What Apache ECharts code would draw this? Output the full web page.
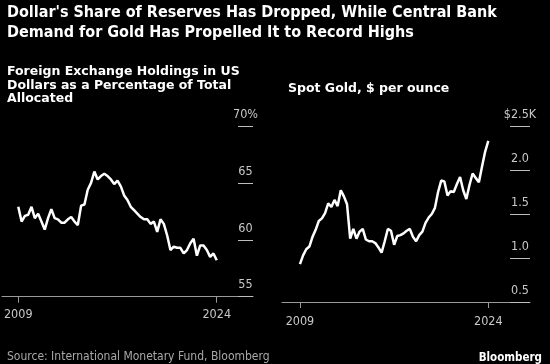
<!DOCTYPE html>
<html>
<head>
<meta charset="utf-8">
<script src="https://cdn.jsdelivr.net/npm/echarts@6/dist/echarts.min.js"></script>
<style>
html,body{margin:0;padding:0;background:#000;}
#c{width:550px;height:364px;}
</style>
</head>
<body>
<div id="c"></div>
<script>
// Left panel: USD share of allocated FX reserves (%), quarterly from 2009 Q1
const usdStartYear = 2009;
const usdShare = [62.9,61.6,62.1,62.2,62.9,61.9,62.3,61.6,60.9,61.9,62.7,61.9,61.8,61.5,61.5,61.8,
  62.0,61.6,61.3,63.0,63.1,64.4,65.0,66.0,65.3,65.6,65.8,65.6,65.3,64.9,65.2,64.7,63.9,63.5,62.9,
  62.6,62.3,62.0,61.8,61.8,61.4,61.6,60.7,61.8,61.4,60.4,59.1,59.4,59.3,59.3,58.8,59.1,59.7,60.1,
  58.6,59.5,59.5,59.1,58.5,58.8,58.2];
// Right panel: spot gold ($K per ounce), quarterly from 2009
const goldStartYear = 2009;
const goldPrice = [0.93,1.03,1.10,1.13,1.24,1.32,1.42,1.45,1.51,1.62,1.58,1.66,1.59,1.77,1.70,1.61,
  1.22,1.33,1.22,1.30,1.33,1.21,1.19,1.19,1.17,1.12,1.06,1.19,1.33,1.31,1.15,1.25,1.26,1.28,1.31,
  1.33,1.24,1.19,1.26,1.30,1.40,1.46,1.50,1.57,1.75,1.88,1.87,1.71,1.76,1.75,1.84,1.92,1.77,1.67,
  1.83,1.96,1.91,1.86,2.04,2.21,2.33];
const xTickYears = [2009, 2024];
const usdTicks = [55, 60, 65, 70];
const goldTicks = [0.5, 1.0, 1.5, 2.0, 2.5];

const usdData = usdShare.map((v, i) => [usdStartYear + i / 4, v]);
const goldData = goldPrice.map((v, i) => [goldStartYear + i / 4, v]);

const narrow = "'Liberation Sans Narrow','DejaVu Sans Condensed',sans-serif";
const labelColor = '#c8c8c8';
const axisColor = '#9a9a9a';

function xAxisCfg(gridIndex, min, max, margin) {
  return {
    type: 'value', gridIndex, min, max,
    splitLine: {show: false},
    axisLine: {show: true, lineStyle: {color: axisColor, width: 1}},
    axisTick: {show: true, customValues: xTickYears, length: 6, lineStyle: {color: axisColor}},
    axisLabel: {show: true, customValues: xTickYears, margin: margin, color: labelColor,
      fontFamily: narrow, fontSize: 12.5, formatter: v => String(Math.round(v))}
  };
}
function yAxisCfg(gridIndex, min, max, interval, ticks, tickLen, fmt) {
  return {
    type: 'value', gridIndex, position: 'right', min, max, interval,
    splitLine: {show: false},
    axisLine: {show: false},
    axisTick: {show: true, inside: true, length: tickLen, customValues: ticks,
      lineStyle: {color: '#bdbdbd', width: 1}},
    axisLabel: {show: true, inside: true, customValues: ticks, margin: tickLen / 2, align: 'center',
      verticalAlign: 'bottom', padding: [0, 0, 5, 0], color: labelColor,
      fontFamily: narrow, fontSize: 12.5, formatter: fmt}
  };
}

const chart = echarts.init(document.getElementById('c'), null, {renderer: 'canvas'});
chart.setOption({
  backgroundColor: '#000',
  animation: false,
  title: [
    {text: "Dollar's Share of Reserves Has Dropped, While Central Bank\nDemand for Gold Has Propelled It to Record Highs",
      left: 2, top: -2,
      textStyle: {color: '#fff', fontFamily: "'DejaVu Sans Condensed','DejaVu Sans',sans-serif", fontWeight: 'bold', fontSize: 16, lineHeight: 20}},
    {text: 'Foreign Exchange Holdings in US\nDollars as a Percentage of Total\nAllocated',
      left: 2, top: 60,
      textStyle: {color: '#fff', fontFamily: "'DejaVu Sans',sans-serif", fontWeight: 'bold', fontSize: 12.5, lineHeight: 13.5}},
    {text: 'Spot Gold, $ per ounce',
      left: 283, top: 77,
      textStyle: {color: '#fff', fontFamily: "'DejaVu Sans',sans-serif", fontWeight: 'bold', fontSize: 12.5, lineHeight: 13.5}},
    {text: 'Source: International Monetary Fund, Bloomberg',
      left: 2, top: 344,
      textStyle: {color: '#a8a8a8', fontFamily: narrow, fontWeight: 'normal', fontSize: 12, lineHeight: 16}},
    {text: 'Bloomberg',
      right: 3, top: 345,
      textStyle: {color: '#fff', fontFamily: "'DejaVu Sans Condensed',sans-serif", fontWeight: 'bold', fontSize: 11.5, lineHeight: 16}}
  ],
  grid: [
    {left: 2, right: 297, top: 126, bottom: 67.3},
    {left: 282, right: 20, top: 126, bottom: 62}
  ],
  xAxis: [
    xAxisCfg(0, 2007.77, 2026.74, 12),
    xAxisCfg(1, 2007.57, 2027.32, 13)
  ],
  yAxis: [
    yAxisCfg(0, 55, 70, 5, usdTicks, 15, v => v === 70 ? '70%' : String(v)),
    yAxisCfg(1, 0.5, 2.5, 0.5, goldTicks, 20, v => Math.abs(v - 2.5) < 1e-9 ? '$2.5K' : v.toFixed(1))
  ],
  series: [
    {type: 'line', xAxisIndex: 0, yAxisIndex: 0, data: usdData, showSymbol: false, smooth: false,
      lineStyle: {color: '#fff', width: 2.5}},
    {type: 'line', xAxisIndex: 1, yAxisIndex: 1, data: goldData, showSymbol: false, smooth: false,
      lineStyle: {color: '#fff', width: 2.5}}
  ]
});
</script>
</body>
</html>
